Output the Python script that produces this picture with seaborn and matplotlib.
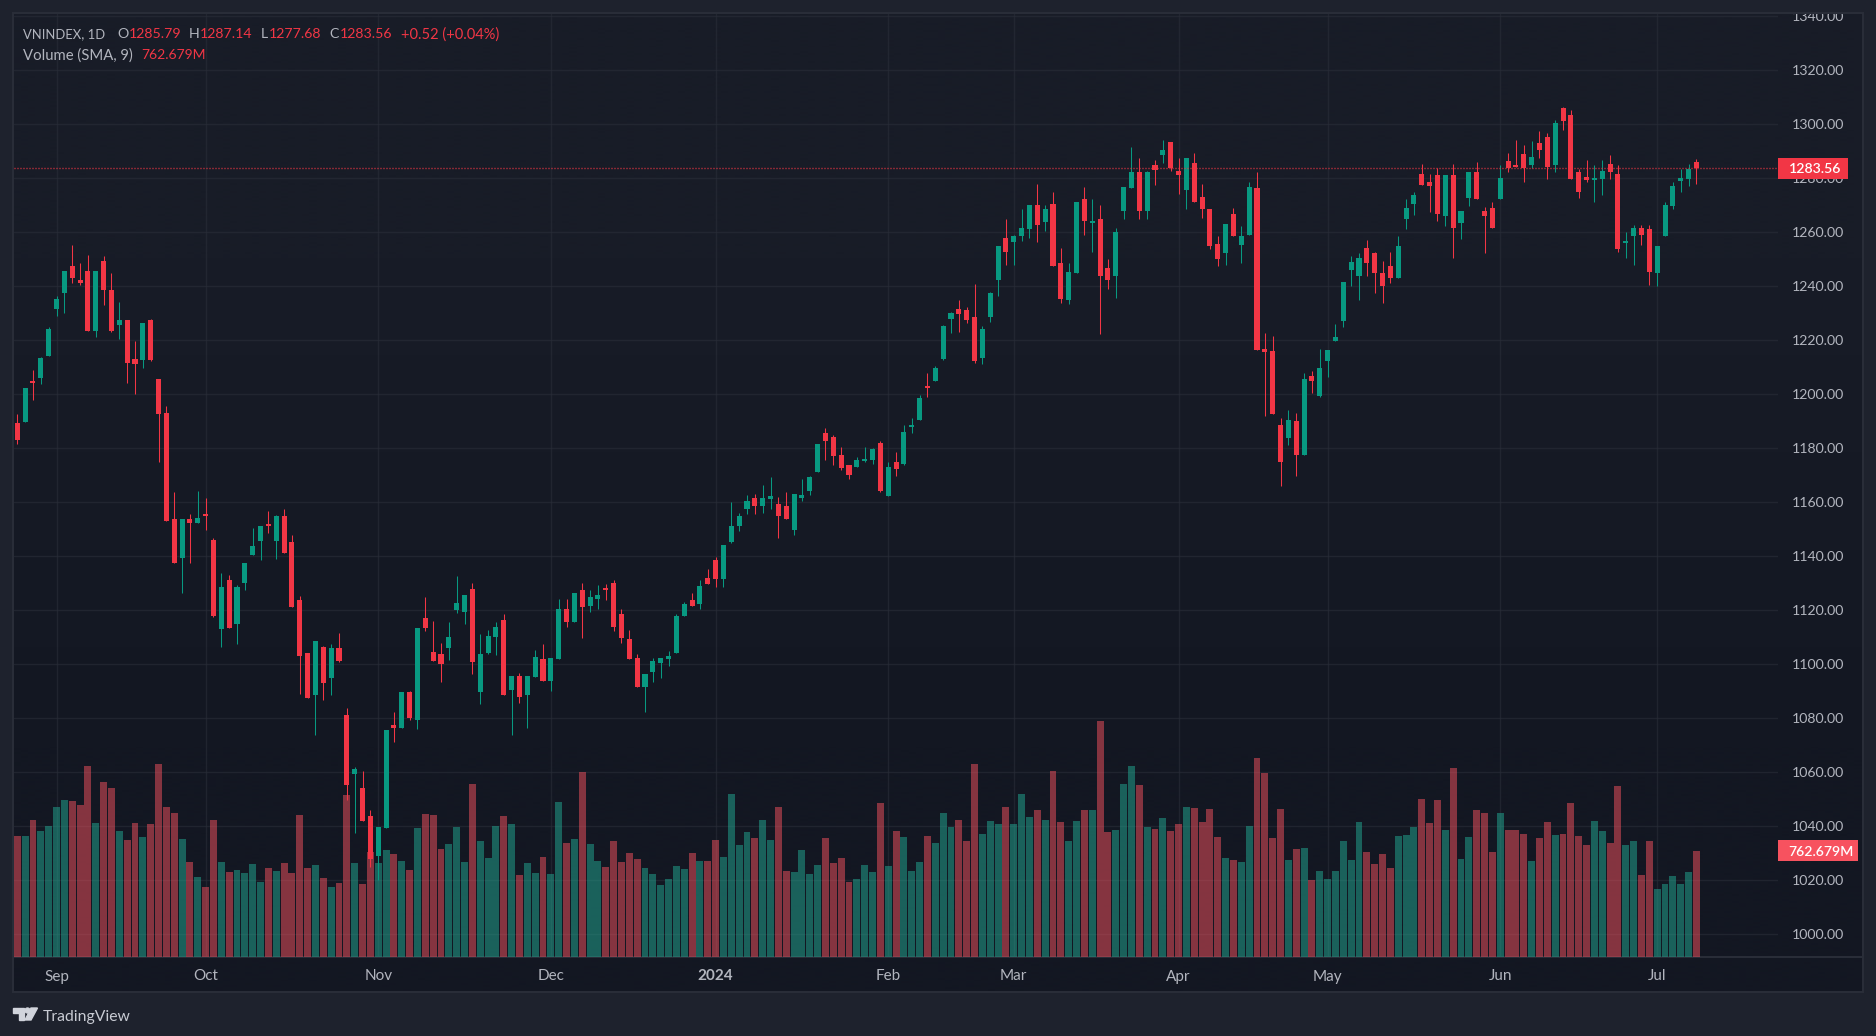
import numpy as np
import pandas as pd
import seaborn as sns
import matplotlib.pyplot as plt
from matplotlib.patches import Circle, Polygon, Rectangle

# VNINDEX daily bars
opens = [
    1189.4, 1189.7, 1204.9, 1206.0, 1214.2, 1231.6, 1237.2, 1247.2, 1242.0, 1245.7,
    1223.4, 1249.4, 1238.3, 1225.7, 1227.5, 1213.1, 1212.7, 1227.5, 1205.7, 1193.1,
    1153.5, 1139.4, 1153.8, 1152.3, 1155.7, 1146.0, 1113.1, 1131.2, 1114.9, 1130.1,
    1140.5, 1145.7, 1152.0, 1145.7, 1154.9, 1145.3, 1123.8, 1104.2, 1088.3, 1106.4,
    1094.6, 1106.0, 1081.2, 1059.4, 1054.2, 1043.8, 1029.0, 1039.4, 1077.5, 1076.4,
    1089.7, 1079.4, 1117.1, 1104.5, 1103.8, 1106.0, 1120.1, 1119.4, 1127.9, 1089.7,
    1104.2, 1110.1, 1116.4, 1090.5, 1095.7, 1088.3, 1095.3, 1102.0, 1093.8, 1102.0,
    1120.5, 1115.7, 1127.5, 1121.6, 1124.2, 1127.9, 1130.1, 1118.3, 1109.4, 1102.3,
    1091.6, 1097.1, 1100.5, 1102.0, 1104.2, 1117.9, 1123.5, 1122.3, 1132.0, 1138.3,
    1131.6, 1145.3, 1151.2, 1157.2, 1161.6, 1158.6, 1161.2, 1159.4, 1158.6, 1149.7,
    1161.6, 1164.2, 1171.2, 1185.7, 1184.2, 1177.5, 1173.8, 1173.1, 1175.3, 1175.7,
    1182.0, 1162.3, 1174.6, 1174.2, 1187.9, 1190.5, 1203.1, 1204.9, 1213.1, 1227.9,
    1231.6, 1230.9, 1228.3, 1213.4, 1228.6, 1242.0, 1257.9, 1256.4, 1258.3, 1261.2,
    1270.1, 1263.5, 1270.5, 1248.6, 1234.6, 1244.9, 1272.3, 1263.4, 1264.6, 1246.8,
    1243.5, 1267.9, 1276.4, 1282.0, 1267.9, 1284.9, 1288.3, 1293.4, 1282.7, 1275.7,
    1285.7, 1273.1, 1268.6, 1255.7, 1252.3, 1266.8, 1255.3, 1259.0, 1276.4, 1216.8,
    1216.0, 1188.6, 1183.5, 1190.1, 1177.2, 1206.8, 1199.4, 1212.0, 1219.7, 1227.1,
    1246.0, 1243.5, 1254.2, 1252.3, 1244.9, 1247.5, 1243.1, 1264.6, 1270.5, 1281.6,
    1278.6, 1280.9, 1266.0, 1280.9, 1263.4, 1272.7, 1282.0, 1267.9, 1269.0, 1272.3,
    1286.4, 1284.6, 1289.0, 1284.9, 1293.1, 1295.3, 1284.9, 1306.0, 1303.4, 1282.0,
    1280.5, 1279.4, 1279.7, 1285.3, 1281.6, 1256.0, 1258.3, 1261.6, 1260.9, 1244.9,
    1258.6, 1269.7, 1279.0, 1279.7, 1285.79,
]
highs = [
    1192.7, 1202.3, 1209.0, 1213.8, 1224.9, 1236.4, 1245.7, 1255.3, 1248.3, 1251.6,
    1245.7, 1250.9, 1244.6, 1234.2, 1227.5, 1219.7, 1226.4, 1227.9, 1205.7, 1195.7,
    1163.8, 1153.8, 1155.7, 1164.2, 1161.6, 1146.8, 1133.8, 1133.1, 1129.4, 1137.5,
    1150.5, 1150.9, 1156.8, 1155.3, 1157.5, 1147.9, 1125.3, 1104.2, 1108.3, 1106.8,
    1107.5, 1111.6, 1083.5, 1062.0, 1060.5, 1046.0, 1039.7, 1075.7, 1082.3, 1089.7,
    1090.1, 1113.4, 1124.9, 1116.0, 1107.9, 1115.7, 1132.7, 1125.7, 1130.1, 1111.2,
    1112.7, 1115.7, 1118.6, 1095.7, 1096.8, 1095.7, 1105.3, 1107.5, 1102.3, 1124.2,
    1124.2, 1126.4, 1130.1, 1127.5, 1129.4, 1129.7, 1131.2, 1120.5, 1112.7, 1103.8,
    1096.4, 1102.3, 1102.3, 1104.6, 1118.3, 1123.1, 1126.4, 1130.9, 1135.3, 1139.7,
    1144.2, 1160.1, 1156.0, 1162.7, 1163.1, 1166.4, 1169.4, 1162.0, 1163.8, 1163.1,
    1168.6, 1169.7, 1181.6, 1187.2, 1184.9, 1180.5, 1173.8, 1176.8, 1180.5, 1180.1,
    1182.7, 1174.6, 1178.3, 1188.6, 1191.2, 1199.7, 1207.9, 1210.5, 1225.7, 1230.5,
    1234.6, 1232.3, 1240.8, 1225.3, 1237.9, 1254.9, 1264.6, 1259.0, 1268.6, 1270.1,
    1277.9, 1270.1, 1274.6, 1254.2, 1248.6, 1270.9, 1276.8, 1272.0, 1270.1, 1250.1,
    1261.6, 1276.8, 1291.6, 1287.2, 1282.7, 1286.8, 1294.2, 1293.4, 1287.2, 1287.2,
    1289.4, 1277.9, 1268.6, 1258.6, 1263.1, 1269.0, 1262.3, 1278.6, 1282.0, 1222.7,
    1221.6, 1191.2, 1194.2, 1193.1, 1207.9, 1208.6, 1216.8, 1216.4, 1226.0, 1241.6,
    1250.9, 1252.0, 1257.1, 1252.7, 1249.4, 1252.7, 1258.3, 1272.0, 1274.6, 1285.3,
    1281.6, 1283.5, 1281.2, 1285.3, 1267.9, 1282.0, 1286.0, 1269.4, 1271.2, 1284.6,
    1289.4, 1294.2, 1292.3, 1293.5, 1297.5, 1296.8, 1301.6, 1306.4, 1305.3, 1283.4,
    1286.8, 1284.6, 1286.8, 1288.3, 1284.9, 1260.1, 1262.7, 1262.7, 1262.7, 1254.9,
    1270.9, 1278.3, 1283.4, 1285.3, 1287.14,
]
lows = [
    1181.6, 1189.7, 1197.9, 1203.8, 1214.2, 1229.0, 1230.1, 1240.9, 1240.5, 1223.4,
    1220.9, 1233.1, 1223.0, 1220.5, 1204.2, 1200.1, 1209.7, 1212.0, 1174.6, 1153.1,
    1137.5, 1126.4, 1137.2, 1152.3, 1149.7, 1117.5, 1106.4, 1113.4, 1107.5, 1127.2,
    1140.5, 1138.3, 1148.3, 1139.0, 1140.9, 1121.2, 1089.0, 1087.5, 1073.8, 1086.8,
    1088.3, 1100.8, 1049.7, 1037.5, 1042.0, 1024.9, 1020.1, 1039.4, 1071.2, 1076.4,
    1079.4, 1076.0, 1112.3, 1101.2, 1093.4, 1101.6, 1119.0, 1114.9, 1096.4, 1085.3,
    1103.8, 1103.4, 1088.3, 1073.5, 1085.7, 1076.4, 1095.3, 1093.8, 1090.1, 1102.0,
    1113.8, 1115.7, 1109.7, 1119.4, 1120.5, 1123.5, 1112.3, 1107.9, 1102.0, 1091.6,
    1082.3, 1093.4, 1094.6, 1099.4, 1104.2, 1117.9, 1121.6, 1120.5, 1129.7, 1128.6,
    1128.3, 1144.6, 1149.4, 1155.7, 1155.7, 1156.0, 1157.5, 1146.8, 1153.8, 1147.9,
    1160.5, 1162.7, 1171.2, 1175.7, 1173.8, 1172.0, 1168.6, 1173.1, 1174.9, 1174.2,
    1163.5, 1162.3, 1169.7, 1173.8, 1185.7, 1190.5, 1199.0, 1204.6, 1212.7, 1222.7,
    1223.1, 1226.4, 1211.6, 1210.9, 1226.8, 1236.4, 1247.9, 1247.9, 1256.8, 1257.9,
    1256.4, 1260.5, 1247.2, 1233.8, 1233.4, 1244.9, 1259.0, 1252.7, 1222.0, 1239.0,
    1235.7, 1264.6, 1276.4, 1264.6, 1264.6, 1277.2, 1285.7, 1282.7, 1274.2, 1268.6,
    1271.2, 1265.3, 1253.8, 1247.2, 1247.9, 1258.3, 1248.3, 1259.0, 1216.4, 1192.0,
    1192.7, 1166.0, 1181.2, 1169.7, 1177.2, 1200.5, 1199.0, 1206.4, 1219.7, 1224.6,
    1240.1, 1234.9, 1243.5, 1237.5, 1233.8, 1241.2, 1243.1, 1261.2, 1266.4, 1277.5,
    1267.5, 1264.2, 1262.3, 1250.5, 1257.5, 1269.7, 1272.0, 1252.0, 1261.6, 1272.0,
    1282.3, 1284.2, 1278.6, 1283.8, 1287.5, 1279.7, 1282.0, 1297.9, 1279.7, 1272.7,
    1278.6, 1270.9, 1273.8, 1279.7, 1252.7, 1250.5, 1247.9, 1255.3, 1240.5, 1240.1,
    1258.3, 1268.6, 1274.9, 1277.1, 1277.68,
]
closes = [
    1183.1, 1202.0, 1204.2, 1213.4, 1224.2, 1235.3, 1245.7, 1243.1, 1241.2, 1223.4,
    1245.7, 1238.3, 1223.4, 1227.5, 1211.6, 1211.2, 1226.4, 1212.7, 1192.7, 1153.1,
    1137.5, 1153.8, 1152.3, 1154.2, 1154.9, 1117.9, 1128.6, 1113.4, 1128.6, 1137.5,
    1143.8, 1150.9, 1151.2, 1154.9, 1141.2, 1121.2, 1103.1, 1087.5, 1108.3, 1093.1,
    1106.0, 1101.2, 1055.3, 1060.9, 1042.0, 1027.9, 1039.7, 1075.7, 1076.4, 1089.7,
    1080.1, 1113.4, 1113.4, 1101.2, 1099.8, 1109.8, 1122.7, 1125.7, 1100.8, 1103.8,
    1110.5, 1113.8, 1088.3, 1095.7, 1087.9, 1095.7, 1102.7, 1093.8, 1102.3, 1120.5,
    1115.7, 1126.4, 1121.2, 1124.6, 1125.7, 1127.5, 1113.8, 1109.7, 1102.0, 1091.6,
    1096.4, 1100.9, 1102.3, 1103.1, 1117.9, 1122.3, 1121.6, 1129.0, 1129.7, 1131.6,
    1144.2, 1150.9, 1154.9, 1160.5, 1158.3, 1161.6, 1162.3, 1154.6, 1153.8, 1163.1,
    1162.7, 1169.4, 1181.6, 1182.7, 1177.1, 1172.7, 1170.1, 1175.7, 1175.7, 1179.7,
    1164.2, 1173.1, 1172.3, 1186.0, 1188.6, 1198.6, 1202.3, 1209.7, 1225.3, 1230.1,
    1229.7, 1227.2, 1212.0, 1224.2, 1237.5, 1254.9, 1252.7, 1258.6, 1261.6, 1270.1,
    1262.7, 1268.6, 1247.2, 1235.3, 1245.3, 1270.9, 1264.2, 1263.8, 1243.5, 1242.3,
    1260.1, 1276.8, 1282.0, 1267.9, 1282.3, 1283.1, 1290.5, 1283.8, 1281.2, 1287.2,
    1271.2, 1268.3, 1254.9, 1250.1, 1263.1, 1258.3, 1258.3, 1276.8, 1216.4, 1215.7,
    1192.7, 1174.6, 1190.5, 1177.2, 1205.7, 1204.9, 1209.7, 1216.4, 1221.2, 1241.6,
    1249.0, 1250.5, 1248.6, 1244.6, 1240.1, 1243.1, 1254.6, 1269.0, 1273.5, 1277.5,
    1277.1, 1266.8, 1281.2, 1261.6, 1267.9, 1282.0, 1272.3, 1266.0, 1261.6, 1280.1,
    1283.5, 1284.2, 1283.5, 1287.9, 1290.5, 1284.2, 1300.5, 1301.2, 1279.7, 1274.6,
    1279.4, 1280.1, 1282.7, 1282.0, 1253.8, 1256.8, 1261.6, 1259.0, 1245.3, 1254.9,
    1270.1, 1277.1, 1280.1, 1283.4, 1283.56,
]
# volume in millions
volumes = [
    870, 870, 985, 906, 942, 1078, 1129, 1121, 1093, 1372,
    964, 1258, 1215, 906, 842, 964, 863, 956, 1387, 1078,
    1035, 849, 684, 576, 505, 985, 684, 612, 626, 605,
    669, 540, 641, 619, 677, 605, 1021, 641, 662, 569,
    505, 533, 1164, 677, 526, 756, 677, 770, 741, 691,
    626, 928, 1028, 1021, 777, 813, 935, 684, 1243, 834,
    713, 942, 1014, 956, 591, 677, 605, 720, 598, 1114,
    820, 849, 1329, 813, 691, 648, 834, 684, 748, 705,
    641, 598, 519, 562, 655, 634, 748, 691, 691, 842,
    720, 1172, 806, 899, 856, 985, 842, 1078, 619, 612,
    770, 598, 662, 856, 677, 713, 540, 562, 662, 612,
    1107, 655, 906, 863, 619, 684, 870, 820, 1035, 935,
    985, 834, 1387, 885, 978, 956, 1078, 956, 1172, 1007,
    1057, 985, 1337, 971, 834, 978, 1057, 1057, 1695, 899,
    913, 1243, 1372, 1236, 935, 921, 999, 906, 956, 1078,
    1071, 971, 1064, 863, 713, 698, 684, 942, 1430, 1322,
    856, 1064, 698, 777, 784, 555, 619, 562, 619, 834,
    698, 971, 756, 669, 741, 641, 870, 877, 935, 1136,
    964, 1129, 913, 1358, 705, 863, 1057, 1035, 756, 1035,
    913, 913, 885, 691, 856, 971, 877, 885, 1107, 870,
    806, 978, 906, 820, 1229, 806, 834, 591, 834, 490,
    526, 583, 526, 612, 762.679,
]

month_bars = [5, 24, 46, 68, 89, 111, 127, 148, 167, 189, 209]
month_labels = ["Sep", "Oct", "Nov", "Dec", "2024", "Feb", "Mar", "Apr", "May", "Jun", "Jul"]
price_ticks = list(range(1000, 1360, 20))
last_price = 1283.56
last_volume = 762.679

UP = "#089981"
DOWN = "#F23645"
VOL_UP = "#22AB94"
VOL_DOWN = "#F7525F"
TEXT = "#B2B5BE"
GRID = "#2A2E39"
W, H = 1876, 1036
XLIM = (-0.42, 224.4)
YLIM = (991.45, 1340.7)
VOL_TOP = 6764

sns.set_theme(style="dark")
plt.rcParams["font.family"] = ["Lato", "DejaVu Sans"]

df = pd.DataFrame({"open": opens, "high": highs, "low": lows, "close": closes, "volume": volumes})
df["bar"] = np.arange(len(df))
df["direction"] = np.where(df["close"] < df["open"], "down", "up")
colors = df["direction"].map({"down": DOWN, "up": UP})

fig = plt.figure(figsize=(W / 100, H / 100), dpi=100, facecolor="#1E222D")

# backdrop: pane gradient and frame, in pixel coordinates
bg = fig.add_axes([0, 0, 1, 1], zorder=0)
gradient = np.array([[0x18, 0x1C, 0x27], [0x13, 0x17, 0x22]]) / 255
bg.imshow(gradient[:, None, :], extent=[14, 1862, 992, 14], aspect="auto", interpolation="bilinear")
bg.set_xlim(0, W)
bg.set_ylim(H, 0)
bg.axis("off")
bg.add_patch(Rectangle((13, 13), 1850, 979, fill=False, ec="#2A2E39", lw=1.4))
bg.plot([14, 1862], [957, 957], color="#2A2E39", lw=1.4)

# TradingView mark
bg.add_patch(Polygon([(13, 1008), (24, 1008), (24, 1020), (18.5, 1020), (18.5, 1013), (13, 1013)], color="#D1D4DC"))
bg.add_patch(Circle((27.5, 1010.5), 2.5, color="#D1D4DC"))
bg.add_patch(Polygon([(31, 1008), (37.5, 1008), (31, 1020), (25, 1020)], color="#D1D4DC"))

left, right, top, bottom = 14, 1778, 14, 957
rect = [left / W, 1 - bottom / H, (right - left) / W, (bottom - top) / H]

# grid goes under the translucent volume bars
ax_grid = fig.add_axes(rect, zorder=0.5)
ax_grid.patch.set_visible(False)
ax_grid.set_xlim(*XLIM)
ax_grid.set_ylim(*YLIM)
ax_grid.set_xticks(month_bars)
ax_grid.set_yticks(price_ticks)
ax_grid.tick_params(length=0, labelbottom=False, labelleft=False)
ax_grid.grid(True, color=GRID, lw=1, alpha=0.6)
for s in ax_grid.spines.values():
    s.set_visible(False)

# volume sits on its own scale under the candles
ax_vol = fig.add_axes(rect, zorder=1)
ax_vol.patch.set_visible(False)
sns.barplot(
    data=df, x="bar", y="volume", hue="direction", palette={"down": VOL_DOWN, "up": VOL_UP},
    native_scale=True, dodge=False, width=0.88, alpha=0.5, saturation=1,
    errorbar=None, legend=False, linewidth=0, ax=ax_vol,
)
ax_vol.set_xlim(*XLIM)
ax_vol.set_ylim(0, VOL_TOP)
ax_vol.axis("off")

ax = fig.add_axes(rect, zorder=2)
ax.patch.set_visible(False)
ax.vlines(df["bar"], df["low"], df["high"], colors=colors, linewidth=0.75, zorder=3)
ax.bar(
    df["bar"], (df["close"] - df["open"]).abs().clip(lower=0.5), bottom=df[["open", "close"]].min(axis=1),
    width=0.64, color=colors, linewidth=0, zorder=4,
)
ax.axhline(last_price, color=DOWN, lw=1, ls=(0, (0.72, 1.44)), zorder=5)

ax.set_xlim(*XLIM)
ax.set_ylim(*YLIM)
ax.set_xticks(month_bars)
ax.set_xticklabels(month_labels)
ax.get_xticklabels()[month_labels.index("2024")].set_fontweight("bold")
ax.yaxis.tick_right()
ax.set_yticks(price_ticks)
ax.set_yticklabels([f"{p:.2f}" for p in price_ticks])
ax.tick_params(axis="x", length=0, pad=9, labelsize=11, colors=TEXT)
ax.tick_params(axis="y", length=0, pad=10, labelsize=10.2, colors=TEXT)
ax.grid(False)
for s in ax.spines.values():
    s.set_visible(False)

# the top price label is cut by the frame
clip = Rectangle((0, 14), W, 978, transform=bg.transData)
for lab in ax.get_yticklabels():
    lab.set_clip_path(clip)
    lab.set_clip_on(True)

# last value tags on the price scale
trans = ax.get_yaxis_transform()
tag_h = 21 * (YLIM[1] - YLIM[0]) / (bottom - top)
ax.add_patch(Rectangle((1, last_price - tag_h / 2), 70 / (right - left), tag_h, transform=trans,
                       color=DOWN, lw=0, clip_on=False, zorder=10))
ax.text(1 + 10.5 / (right - left), last_price, f"{last_price:.2f}", transform=trans, color="white",
        fontsize=10.2, fontweight="semibold", va="center_baseline", ha="left", clip_on=False, zorder=11)
vol_trans = ax_vol.get_yaxis_transform()
tag_h_vol = 21 * VOL_TOP / (bottom - top)
ax.add_patch(Rectangle((1, last_volume - tag_h_vol / 2), 80 / (right - left), tag_h_vol, transform=vol_trans,
                       color=VOL_DOWN, lw=0, clip_on=False, zorder=10))
ax.text(1 + 10 / (right - left), last_volume, f"{last_volume:.3f}M", transform=vol_trans, color="white",
        fontsize=10.1, fontweight="semibold", va="center_baseline", ha="left", clip_on=False, zorder=11)


def label(x, y, s, color=TEXT, size=10.2):
    fig.text(x / W, 1 - y / H, s, color=color, fontsize=size, va="center_baseline", ha="left", zorder=20)


# legend strip, top left
label(23, 33, "VNINDEX, 1D", size=9.4)
label(117, 33, "O")
label(128.5, 33, "1285.79", DOWN)
label(189, 33, "H")
label(199.5, 33, "1287.14", DOWN)
label(260.5, 33, "L")
label(269, 33, "1277.68", DOWN)
label(329, 33, "C")
label(340, 33, "1283.56", DOWN)
label(400.5, 33, "+0.52 (+0.04%)", DOWN, 10.5)
label(23, 54, "Volume (SMA, 9)", size=10.7)
label(141.5, 54, "762.679M", DOWN, 10)
label(43, 1015, "TradingView", "#C8CBD3", 11.3)

fig.savefig("out.png", dpi=100, facecolor=fig.get_facecolor())
plt.close(fig)
